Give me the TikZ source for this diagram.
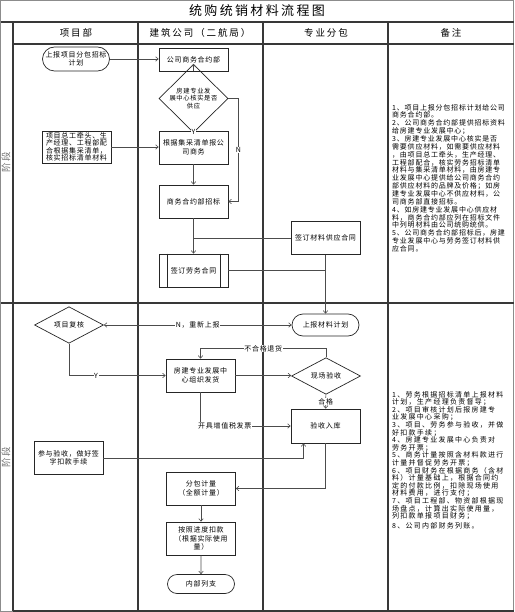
\documentclass[tikz,border=0pt]{standalone}
\usepackage{fontspec}
\setmainfont{Noto Sans CJK SC}
\newfontfamily\cjkN[LetterSpace=10]{Noto Sans CJK SC}
\newfontfamily\cjkT[LetterSpace=18]{Noto Sans CJK SC}
\newfontfamily\cjkH[LetterSpace=20]{Noto Sans CJK SC}
\newfontfamily\cjkA[LetterSpace=11]{Noto Sans CJK SC}
\newfontfamily\cjkB[LetterSpace=18]{Noto Sans CJK SC}
\usetikzlibrary{arrows.meta,shapes.geometric,shapes.misc}
\newcommand\myNodeFont{\cjkN\fontsize{7}{8.4}\selectfont\lineskiplimit=-30pt\relax}
\newcommand\myTightFont{\cjkN\fontsize{7}{7.4}\selectfont\lineskiplimit=-30pt\relax}
\newcommand\mySmallFont{\cjkN\fontsize{6.3}{7.3}\selectfont\lineskiplimit=-30pt\relax}
\newcommand\myTitleFont{\cjkT\fontsize{13}{15}\selectfont}
\newcommand\myHeadFont{\cjkH\fontsize{9.5}{11}\selectfont}
\newcommand\myNoteA{\cjkA\fontsize{7}{7.85}\selectfont\lineskiplimit=-30pt\relax}
\newcommand\myNoteB{\cjkB\fontsize{7}{7.6}\selectfont\lineskiplimit=-30pt\relax}
\tikzset{
  frame/.style={draw=black!45, line width=0.8pt},
  lane/.style={draw=black!78, line width=1.1pt},
  box/.style={draw=black!85, line width=0.7pt, rectangle, minimum width=69pt,
    minimum height=33pt, inner sep=1pt, align=center, font=\myNodeFont},
  term/.style={box, rounded rectangle, minimum height=24pt},
  dia/.style={draw=black!85, line width=0.7pt, diamond, minimum width=69pt,
    minimum height=32pt, inner sep=0pt, align=center, font=\myNodeFont},
  conn/.style={draw=black!70, line width=0.6pt},
  arr/.style={conn, -{Straight Barb[length=2.6pt,width=4.5pt]}},
  arrboth/.style={conn, {Straight Barb[length=2.6pt,width=4.5pt]}-{Straight Barb[length=2.6pt,width=4.5pt]}},
  lbl/.style={fill=white, inner sep=0.6pt, font=\myNodeFont},
  stage/.style={rotate=90, font=\myHeadFont, text=black!55},
}
\begin{document}
\begin{tikzpicture}[x=1pt,y=-1pt]
\useasboundingbox (0,0) rectangle (514,612);
% frame and lanes
\draw[frame] (0.5,0.5) rectangle (513.5,611);
\draw[lane] (0.5,22) -- (513.5,22);
\draw[lane] (13,44) -- (513.5,44);
\draw[lane] (0.5,303) -- (513.5,303);
\draw[lane] (13,22) -- (13,611);
\draw[lane] (138,22) -- (138,611);
\draw[lane] (263,22) -- (263,611);
\draw[lane] (388,22) -- (388,611);
\draw[lane] (13,611) -- (513.5,611);
% title and headers
\node[font=\myTitleFont] (title) at (257,11) {统购统销材料流程图};
\node[font=\myHeadFont] (h1) at (76,33) {项目部};
\node[font=\myHeadFont] (h2) at (200,33) {建筑公司（二航局）};
\node[font=\myHeadFont] (h3) at (326,33) {专业分包};
\node[font=\myHeadFont] (h4) at (451,33) {备注};
\node[stage] (s1) at (6,162) {阶段};
\node[stage] (s2) at (6,457) {阶段};
% upper stage nodes
\node[term] (a1) at (76,59) {上报项目分包招标\\计划};
\node[box, minimum height=23pt] (b1) at (193.5,59.5) {公司商务合约部};
\node[dia, font=\mySmallFont] (b2) at (193.5,98.5) {房建专业发\\展中心核实是否\\供应};
\node[box] (b3) at (193.5,147.5) {根据集采清单报公\\司商务};
\node[box, minimum height=32pt, font=\myTightFont] (a2) at (76.5,147) {项目总工牵头、生\\产经理、工程部配\\合根据集采清单，\\核实招标清单材料};
\node[box] (b4) at (193.5,201.5) {商务合约部招标};
\node[box] (c1) at (325.5,238) {签订材料供应合同};
\node[box] (b5) at (193.5,270.5) {签订劳务合同};
\draw[draw=black!85, line width=0.6pt] ([xshift=9pt]b5.north west) -- ([xshift=9pt]b5.south west);
\draw[draw=black!85, line width=0.6pt] ([xshift=-8pt]b5.north east) -- ([xshift=-8pt]b5.south east);
% upper connectors
\draw[arr] (a1.east) -- (a1.east -| b1.west);
\draw[arr] (b1) -- (b2);
\draw[arr] (b2) -- node[lbl]{Y} (b3);
\draw[arr] (a2.east) -- (a2.east -| b3.west);
\draw[arr] (b2.east) -- ++(10,0) |- node[lbl, pos=0.25]{N} (b4.east);
\draw[arr] (b3) -- (b4);
\draw[arr] (b4) -- (b5);
\draw[conn] (c1.west) -- (c1.west -| b4.south);
\draw[conn] (b5.east) -- (b5.east -| c1.south);
% lower stage nodes
\node[term, minimum height=22pt] (c2) at (325.5,325) {上报材料计划};
\node[dia] (a3) at (69,325) {项目复核};
\node[box] (b6) at (200.5,375.5) {房建专业发展中\\心组织发货};
\node[dia] (c3) at (326,376) {现场验收};
\node[box, minimum height=34pt] (c4) at (325.5,426) {验收入库};
\node[box] (a4) at (68.5,458) {参与验收，做好签\\字扣款手续};
\node[box] (b7) at (201,488.5) {分包计量\\（全额计量）};
\node[box] (b8) at (201,538.5) {按照进度扣款\\（根据实际使用\\量）};
\node[term, minimum height=19pt] (b9) at (201,584) {内部列支};
% link between stages
\draw[arr] (c1) -- (c2);
% lower connectors
\draw[arrboth] (a3.east) -- node[lbl]{N，重新上报} (c2.west);
\draw[arr] (a3.south) |- node[lbl, pos=0.64]{Y} (b6.west);
\draw[arr] (b6.east) -- (b6.east -| c3.west);
\draw[arr] (c3.north) -- ++(0,-9) -| node[lbl, pos=0.25]{不合格退货} (b6.north);
\draw[arr] (c3) -- node[lbl]{合格} (c4);
\draw[arr] (b6.south) |- node[lbl, pos=0.635]{开具增值税发票} (c4.west);
\draw[arr] (a4.east) -| ([xshift=-22pt]c4.south);
\draw[arr] (c4.south) |- (b7.east);
\draw[arr] (b7) -- (b8);
\draw[arr] (b8) -- (b9);
% notes
\node[anchor=north west, align=left, inner sep=0pt, font=\myNoteA] (n1) at (392,104) {1、项目上报分包招标计划给公司\\商务合约部。\\2、公司商务合约部提供招标资料\\给房建专业发展中心；\\3、房建专业发展中心核实是否\\需要供应材料，如需要供应材料\\，由项目总工牵头，生产经理、\\工程部配合，核实劳务招标清单\\材料与集采清单材料，由房建专\\业发展中心提供给公司商务合约\\部供应材料的品牌及价格；如房\\建专业发展中心不供应材料，公\\司商务部直接招标。\\4、如房建专业发展中心供应材\\料，商务合约部应列在招标文件\\中列明材料由公司统购统供。\\5、公司商务合约部招标后，房建\\专业发展中心与劳务签订材料供\\应合同。};
\node[anchor=north west, align=left, inner sep=0pt, font=\myNoteB] (n2) at (392,391) {1、劳务根据招标清单上报材料\\计划，生产经理负责督导；\\2、项目审核计划后报房建专\\业发展中心采购；\\3、项目、劳务参与验收，并做\\好扣款手续；\\4、房建专业发展中心负责对\\劳务开票；\\5、商务计量按照含材料款进行\\计量并督促劳务开票；\\6、项目财务在根据商务（含材\\料）计量基础上，根据合同约\\定的付款比例，扣除现场使用\\材料费用，进行支付；\\7、项目工程部、物资部根据现\\场盘点，计算出实际使用量，\\列扣款单报项目财务；\\[2pt]8、公司内部财务列账。};
\end{tikzpicture}
\end{document}
